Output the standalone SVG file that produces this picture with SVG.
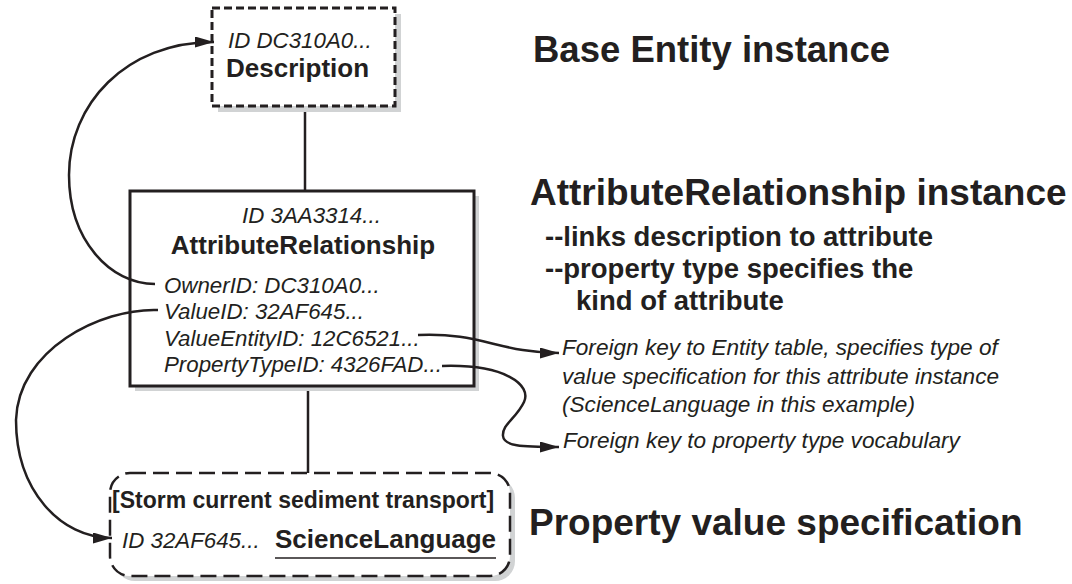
<svg xmlns="http://www.w3.org/2000/svg" width="1072" height="584" viewBox="0 0 1072 584">
<style>
text { font-family: "Liberation Sans", Arial, sans-serif; fill: #231f20; }
.it { font-style: italic; font-size: 22.3px; }
.fk { font-style: italic; font-size: 22.6px; }
.bd { font-weight: bold; font-size: 26px; }
.title { font-weight: bold; font-size: 36.5px; }
.sub { font-weight: bold; font-size: 27.5px; }
.shadow { fill: #d1d3d4; stroke: none; }
.box { fill: #ffffff; stroke: #231f20; stroke-width: 3; }
.dash1 { stroke-dasharray: 8 4; }
.dash2 { stroke-width: 2.5; stroke-dasharray: 16 7; }
.conn { fill: none; stroke: #231f20; stroke-width: 2.5; }
.arr { marker-end: url(#ah); }
</style>
<defs>
<marker id="ah" markerUnits="userSpaceOnUse" markerWidth="20" markerHeight="12" refX="19" refY="5.5" orient="auto">
<path d="M0,0 L19,5.5 L0,11 z" fill="#231f20"/>
</marker>
</defs>
<rect width="1072" height="584" fill="#ffffff"/>

<g id="connectors">
<line class="conn" x1="305" y1="106" x2="305" y2="191"/>
<line class="conn" x1="308" y1="386" x2="308" y2="473"/>
</g>

<g id="description">
<rect class="shadow" x="218" y="14" width="183" height="98"/>
<rect class="box dash1" x="212" y="8" width="183" height="98"/>
<text class="it" x="228" y="48">ID DC310A0...</text>
<text class="bd" x="226" y="77">Description</text>
</g>

<g id="attribute-relationship">
<rect class="shadow" x="135" y="196" width="344" height="195"/>
<rect class="box" x="130" y="191" width="344" height="195"/>
<text class="it" x="242" y="223">ID 3AA3314...</text>
<text class="bd" x="303" y="254" text-anchor="middle">AttributeRelationship</text>
<text class="it" x="164" y="293">OwnerID: DC310A0...</text>
<text class="it" x="164" y="319">ValueID: 32AF645...</text>
<text class="it" x="164" y="346">ValueEntityID: 12C6521...</text>
<text class="it" x="164" y="372">PropertyTypeID: 4326FAD...</text>
</g>

<g id="science-language">
<rect class="shadow" x="115" y="478" width="400" height="103" rx="20" ry="20"/>
<rect class="box dash2" x="110" y="473" width="400" height="103" rx="20" ry="20"/>
<text x="112" y="508" style="font-weight:bold;font-size:23px">[Storm current sediment transport]</text>
<text class="it" x="122" y="548">ID 32AF645...</text>
<text class="bd" x="275" y="548">ScienceLanguage</text>
<line x1="275" y1="558" x2="496" y2="558" stroke="#231f20" stroke-width="1.5"/>
</g>

<g id="links">
<path class="conn arr" d="M155,284 C110,284 69,240 69,175 C69,105 125,42 214,42"/>
<path class="conn arr" d="M158,310 C100,308 18,350 16,420 C16,490 60,538 112,538"/>
<path class="conn arr" d="M418,335 C480,332 500,353 559,353"/>
<path class="conn arr" d="M442,366 C505,364 532,385 524,402 C516,419 502,424 503,436 C504,446 520,447 559,447"/>
</g>

<g id="labels">
<text class="title" x="533" y="62">Base Entity instance</text>
<text class="title" x="530" y="205" style="font-size:37px">AttributeRelationship instance</text>
<text class="sub" x="545" y="246">--links description to attribute</text>
<text class="sub" x="545" y="278">--property type specifies the</text>
<text class="sub" x="576" y="310">kind of attribute</text>
<text class="title" x="529" y="535" style="font-size:37px">Property value specification</text>
<text class="fk" x="562" y="355">Foreign key to Entity table, specifies type of</text>
<text class="fk" x="562" y="383.5">value specification for this attribute instance</text>
<text class="fk" x="562" y="412">(ScienceLanguage in this example)</text>
<text class="fk" x="563" y="448">Foreign key to property type vocabulary</text>
</g>
</svg>
